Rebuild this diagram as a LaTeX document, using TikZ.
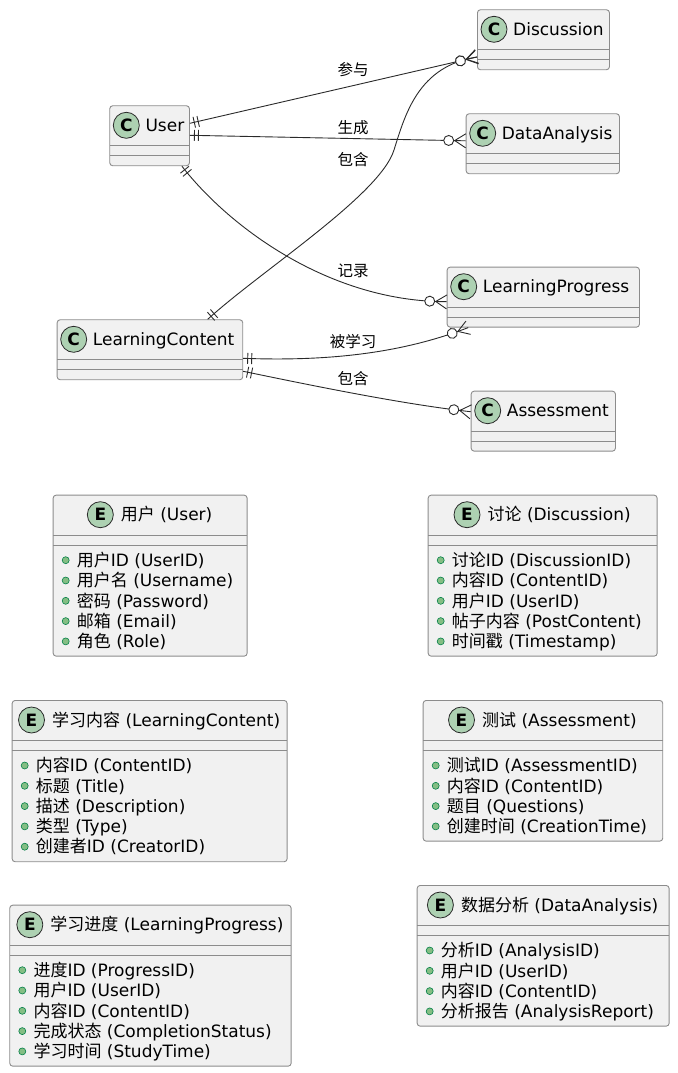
\documentclass[tikz,border=0pt]{standalone}
\usepackage{fontspec}
\setmainfont{DejaVu Sans}
\newfontfamily\cjk{Noto Sans CJK SC}
\usepackage{xcolor}
\usepackage{tikz}
\usetikzlibrary{positioning, calc, decorations.markings}
\definecolor{BoxFill}{HTML}{F1F1F1}
\definecolor{BoxLine}{HTML}{8C8C8C}
\definecolor{SpotFill}{HTML}{ADD1B2}
\definecolor{LinkLine}{HTML}{2A2A2A}
\definecolor{FieldFill}{HTML}{84BE84}
\definecolor{FieldLine}{HTML}{038048}
\tikzset{
    umlbox/.style={
        draw=BoxLine, fill=BoxFill, line width=0.9pt, rounded corners=3pt,
        anchor=north west, minimum height=60pt, inner sep=0pt,
        path picture={
            \draw[BoxLine, line width=0.9pt]
                ($(path picture bounding box.north west)+(0pt,-40pt)$) -- ($(path picture bounding box.north east)+(0pt,-40pt)$)
                ($(path picture bounding box.north west)+(0pt,-50pt)$) -- ($(path picture bounding box.north east)+(0pt,-50pt)$);
        }
    },
    spot/.style={
        circle, draw=LinkLine, fill=SpotFill, line width=0.8pt, minimum size=26pt,
        inner sep=0pt, font=\fontsize{17}{17}\selectfont\bfseries
    },
    classname/.style={
        anchor=west, inner sep=0pt, text height=12.4pt, text depth=0pt,
        font=\fontsize{17}{20}\selectfont
    },
    field/.style={
        circle, draw=FieldLine, fill=FieldFill, line width=0.6pt, minimum size=7pt, inner sep=0pt
    },
    lbl/.style={
        inner sep=0pt, font=\fontsize{15.5}{16}\selectfont\cjk
    }
}

\begin{document}
\begin{tikzpicture}[
        x=1pt, y=-1pt,
        % đường nối: || ở đầu, o< ở cuối
        erlink/.style={
            draw=LinkLine, line width=0.9pt, postaction={decorate},
            decoration={markings,
                mark=at position 4.5pt with {\draw[LinkLine, line width=0.9pt] (0pt,-5.5pt) -- (0pt,5.5pt);},
                mark=at position 8.5pt with {\draw[LinkLine, line width=0.9pt] (0pt,-5.5pt) -- (0pt,5.5pt);},
                mark=at position -17pt with {\draw[LinkLine, fill=white, line width=0.9pt] (0pt,0pt) circle (5pt);},
                mark=at position -11pt with {\draw[LinkLine, line width=0.9pt] (11pt,7pt) -- (0pt,0pt) -- (11pt,-7pt);}
            }
        }
    ]
    \useasboundingbox (0,0) rectangle (677,1073);

    % --- CLASSES ---
    \node[umlbox, minimum width=132pt] (disc) at (477,9.3) {};
    \node[spot] (discC) at ($(disc.north west)+(17,20)$) {C};
    \node[classname] (discT) at ($(disc.north west)+(36,20)$) {Discussion};

    \node[umlbox, minimum width=79.7pt] (user) at (109.3,105.3) {};
    \node[spot] (userC) at ($(user.north west)+(17,20)$) {C};
    \node[classname] (userT) at ($(user.north west)+(36,20)$) {User};

    \node[umlbox, minimum width=153.3pt] (dana) at (465.7,113.3) {};
    \node[spot] (danaC) at ($(dana.north west)+(17,20)$) {C};
    \node[classname] (danaT) at ($(dana.north west)+(36,20)$) {DataAnalysis};

    \node[umlbox, minimum width=192.3pt] (lprog) at (446.7,266.7) {};
    \node[spot] (lprogC) at ($(lprog.north west)+(17,20)$) {C};
    \node[classname] (lprogT) at ($(lprog.north west)+(36,20)$) {LearningProgress};

    \node[umlbox, minimum width=185.6pt] (lcont) at (56.7,319.3) {};
    \node[spot] (lcontC) at ($(lcont.north west)+(17,20)$) {C};
    \node[classname] (lcontT) at ($(lcont.north west)+(36,20)$) {LearningContent};

    \node[umlbox, minimum width=144.3pt] (assess) at (470.7,390.7) {};
    \node[spot] (assessC) at ($(assess.north west)+(17,20)$) {C};
    \node[classname] (assessT) at ($(assess.north west)+(36,20)$) {Assessment};

    % --- RELATIONS ---
    \draw[erlink] ($(user.north east)+(0,18)$) -- ($(disc.north west)+(0,47.7)$);
    \draw[erlink] ($(user.north east)+(0,30)$) -- ($(dana.north west)+(0,27.5)$);
    \draw[erlink] ($(user.south east)+(-8,0)$) .. controls (230,228) and (330,301.7) .. ($(lprog.north west)+(0,35)$);
    \draw[erlink] ($(lcont.north west)+(151,0)$) .. controls (262,270) and (380,195) .. (394,150)
        .. controls (405,115) and (418,66) .. ($(disc.north west)+(0,47.7)$);
    \draw[erlink] ($(lcont.north east)+(0,39)$) .. controls (340,362) and (410,350) .. ($(lprog.south west)+(21.5,0)$);
    \draw[erlink] ($(lcont.north east)+(0,52)$) .. controls (300,383) and (400,404) .. ($(assess.north west)+(0,21)$);

    \node[lbl] (lblJoin) at (353,70) {参与};
    \node[lbl] (lblMake) at (353,128) {生成};
    \node[lbl] (lblHold) at (353,160) {包含};
    \node[lbl] (lblRec) at (353,271) {记录};
    \node[lbl] (lblStudy) at (353,342) {被学习};
    \node[lbl] (lblHas) at (353,379) {包含};

    % --- ENTITIES ---
    \node[umlbox, minimum width=194pt, minimum height=161pt] (euser) at (52.7,494.7) {};
    \node[classname, anchor=center] (euserT) at ($(euser.north)+(16.5,20)$) {{\cjk 用户} (User)};
    \node[spot, left=7pt of euserT] (euserE) {E};
    \foreach \f [count=\i from 0] in {{{\cjk 用户}ID (UserID)}, {{\cjk 用户名} (Username)}, {{\cjk 密码} (Password)}, {{\cjk 邮箱} (Email)}, {{\cjk 角色} (Role)}} {
        \node[field] (euserF\i) at ($(euser.north west)+(13,65.5+20.3*\i)$) {};
        \node[classname] (euserA\i) at ($(euser.north west)+(24,65.5+20.3*\i)$) {\f};
    }

    \node[umlbox, minimum width=229pt, minimum height=161pt] (edisc) at (427.7,494.7) {};
    \node[classname, anchor=center] (ediscT) at ($(edisc.north)+(16.5,20)$) {{\cjk 讨论} (Discussion)};
    \node[spot, left=7pt of ediscT] (ediscE) {E};
    \foreach \f [count=\i from 0] in {{{\cjk 讨论}ID (DiscussionID)}, {{\cjk 内容}ID (ContentID)}, {{\cjk 用户}ID (UserID)}, {{\cjk 帖子内容} (PostContent)}, {{\cjk 时间戳} (Timestamp)}} {
        \node[field] (ediscF\i) at ($(edisc.north west)+(13,65.5+20.3*\i)$) {};
        \node[classname] (ediscA\i) at ($(edisc.north west)+(24,65.5+20.3*\i)$) {\f};
    }

    \node[umlbox, minimum width=275pt, minimum height=161.3pt] (econt) at (11.7,700) {};
    \node[classname, anchor=center] (econtT) at ($(econt.north)+(16.5,20)$) {{\cjk 学习内容} (LearningContent)};
    \node[spot, left=7pt of econtT] (econtE) {E};
    \foreach \f [count=\i from 0] in {{{\cjk 内容}ID (ContentID)}, {{\cjk 标题} (Title)}, {{\cjk 描述} (Description)}, {{\cjk 类型} (Type)}, {{\cjk 创建者}ID (CreatorID)}} {
        \node[field] (econtF\i) at ($(econt.north west)+(13,65.5+20.3*\i)$) {};
        \node[classname] (econtA\i) at ($(econt.north west)+(24,65.5+20.3*\i)$) {\f};
    }

    \node[umlbox, minimum width=239.6pt, minimum height=140.7pt] (eassess) at (422.7,700) {};
    \node[classname, anchor=center] (eassessT) at ($(eassess.north)+(16.5,20)$) {{\cjk 测试} (Assessment)};
    \node[spot, left=7pt of eassessT] (eassessE) {E};
    \foreach \f [count=\i from 0] in {{{\cjk 测试}ID (AssessmentID)}, {{\cjk 内容}ID (ContentID)}, {{\cjk 题目} (Questions)}, {{\cjk 创建时间} (CreationTime)}} {
        \node[field] (eassessF\i) at ($(eassess.north west)+(13,65.5+20.3*\i)$) {};
        \node[classname] (eassessA\i) at ($(eassess.north west)+(24,65.5+20.3*\i)$) {\f};
    }

    \node[umlbox, minimum width=281.4pt, minimum height=161pt] (eprog) at (9.3,904.7) {};
    \node[classname, anchor=center] (eprogT) at ($(eprog.north)+(16.5,20)$) {{\cjk 学习进度} (LearningProgress)};
    \node[spot, left=7pt of eprogT] (eprogE) {E};
    \foreach \f [count=\i from 0] in {{{\cjk 进度}ID (ProgressID)}, {{\cjk 用户}ID (UserID)}, {{\cjk 内容}ID (ContentID)}, {{\cjk 完成状态} (CompletionStatus)}, {{\cjk 学习时间} (StudyTime)}} {
        \node[field] (eprogF\i) at ($(eprog.north west)+(13,65.5+20.3*\i)$) {};
        \node[classname] (eprogA\i) at ($(eprog.north west)+(24,65.5+20.3*\i)$) {\f};
    }

    \node[umlbox, minimum width=252pt, minimum height=140.7pt] (edata) at (416.7,885) {};
    \node[classname, anchor=center] (edataT) at ($(edata.north)+(16.5,20)$) {{\cjk 数据分析} (DataAnalysis)};
    \node[spot, left=7pt of edataT] (edataE) {E};
    \foreach \f [count=\i from 0] in {{{\cjk 分析}ID (AnalysisID)}, {{\cjk 用户}ID (UserID)}, {{\cjk 内容}ID (ContentID)}, {{\cjk 分析报告} (AnalysisReport)}} {
        \node[field] (edataF\i) at ($(edata.north west)+(13,65.5+20.3*\i)$) {};
        \node[classname] (edataA\i) at ($(edata.north west)+(24,65.5+20.3*\i)$) {\f};
    }

\end{tikzpicture}
\end{document}
